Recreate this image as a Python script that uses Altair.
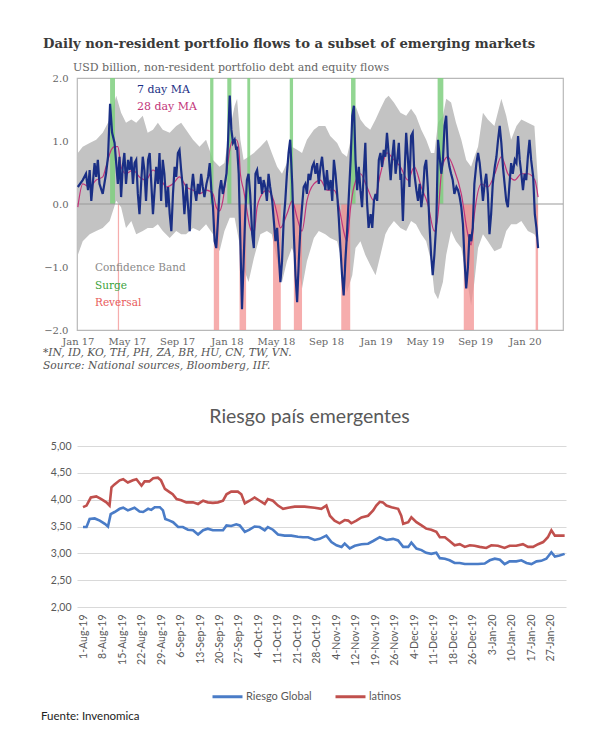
import json
import altair as alt
import pandas as pd

# ---------------- Top chart data (days since 2017-01-01, USD bn) ----------------
flow_7d = [
    (0, 0.27), (12, 0.38), (20, 0.48), (25, 0.22), (29, 0.54), (33, 0.05), (41, 0.65), (45, 0.43),
    (49, 0.70), (53, 0.32), (61, 0.16), (69, 0.48), (74, 0.75), (79, 1.59), (84, 1.13), (90, 0.97),
    (94, 0.65), (98, 0.32), (102, 0.75), (106, 0.11), (110, 0.59), (114, 0.81), (118, 0.32), (123, 0.70),
    (127, 0.54), (131, 0.75), (135, 0.32), (139, 0.65), (143, 0.70), (147, 0.16), (151, -0.16), (155, 0.32),
    (159, 0.75), (163, 0.54), (167, 0.05), (172, 0.70), (176, 0.81), (180, 0.32), (184, -0.16), (188, 0.22),
    (192, 0.59), (196, 0.32), (200, 0.81), (204, 0.05), (208, 0.70), (212, 0.48), (217, -0.05), (221, 0.27),
    (225, -0.16), (229, -0.43), (233, 0.16), (237, 0.59), (241, 0.43), (245, 0.81), (249, 0.86), (253, 0.54),
    (257, 0.27), (261, -0.16), (266, 0.32), (270, -0.05), (274, -0.43), (278, 0.22), (282, 0.48), (286, 0.22),
    (290, 0.05), (294, 0.32), (298, 0.16), (302, 0.48), (306, 0.27), (310, 0.11), (315, 0.32), (319, 0.43),
    (323, 0.65), (327, 0.22), (331, -0.05), (335, -0.59), (339, -0.70), (343, -0.27), (347, 0.22), (351, 0.38),
    (355, 0.16), (360, 0.32), (364, 0.48), (368, 1.02), (372, 1.72), (376, 1.18), (380, 0.97), (384, 1.02),
    (388, 0.86), (390, 0.91), (394, 0.48), (398, -0.59), (402, -1.67), (406, -0.91), (410, -0.16), (414, 0.38),
    (418, 0.48), (422, 0.16), (427, -0.48), (431, -0.70), (435, 0.48), (439, 0.54), (443, 0.32), (447, 0.43),
    (451, 0.16), (455, 0.38), (459, 0.27), (463, 0.05), (467, 0.48), (471, 0.27), (476, 0.05), (480, -0.27),
    (484, -0.59), (488, -0.38), (492, -0.81), (496, -1.24), (500, -0.91), (504, -0.27), (508, 0.05), (512, 0.48),
    (516, 0.81), (520, 1.02), (525, 0.32), (529, -0.48), (533, -1.13), (537, -1.56), (541, -0.91), (545, -0.38),
    (549, -0.05), (553, 0.27), (557, 0.32), (561, 0.16), (565, 0.48), (569, 0.38), (574, 0.59), (578, 0.65),
    (582, 0.48), (586, 0.65), (590, 0.32), (594, 0.59), (598, 0.75), (602, 0.48), (606, 0.22), (610, 0.54),
    (614, 0.22), (619, 0.38), (623, 0.05), (627, 0.70), (631, 0.48), (635, 0.16), (639, -0.22), (643, -0.70),
    (647, -1.13), (651, -1.45), (655, -0.91), (659, -0.48), (663, 0.05), (668, 0.70), (672, 1.40), (676, 1.56),
    (680, 0.70), (684, 0.22), (688, 0.59), (692, 0.22), (696, -0.05), (700, 0.48), (704, 0.97), (708, 0.05),
    (712, -0.38), (717, -0.16), (721, -0.38), (725, 0.05), (729, 0.16), (733, 0.05), (737, 0.70), (741, 0.81),
    (745, 0.59), (749, 0.86), (753, 0.75), (757, 1.13), (761, 0.81), (766, 0.38), (770, 0.75), (774, 1.02),
    (778, 0.48), (782, 0.70), (786, 0.97), (790, 0.38), (792, 0.48), (796, -0.27), (800, 0.48), (804, 1.13),
    (808, 0.75), (812, 0.27), (816, 1.08), (820, 1.13), (824, 0.48), (829, 0.22), (833, 0.05), (837, 0.32),
    (841, -0.05), (845, 0.16), (849, 0.59), (853, 0.70), (857, 0.27), (861, -0.32), (865, -0.81), (869, -1.13),
    (873, -0.81), (878, -0.27), (882, 1.02), (886, 0.75), (890, 0.48), (894, 0.70), (898, 1.24), (902, 1.40),
    (906, 0.75), (910, 0.59), (914, 0.48), (918, 0.38), (922, 0.16), (927, 0.27), (931, 0.22), (935, 0.11),
    (939, -0.05), (943, -0.32), (947, -0.91), (951, -1.34), (955, -1.02), (959, -0.48), (963, -0.59), (967, -0.38),
    (971, 0.32), (976, 0.65), (980, 0.81), (984, 0.65), (988, 0.38), (992, 0.05), (996, 0.32), (1000, 0.48),
    (1004, 0.16), (1008, -0.48), (1012, -0.16), (1016, 0.32), (1021, 0.59), (1025, 0.75), (1029, 1.02), (1033, 1.24),
    (1037, 0.97), (1041, 0.59), (1045, 0.32), (1049, 0.05), (1053, -0.05), (1057, 0.32), (1061, 0.65), (1065, 0.48),
    (1070, 0.70), (1074, 0.65), (1078, 1.08), (1082, 0.70), (1086, 0.48), (1090, 0.22), (1094, 0.48), (1098, 0.38),
    (1102, 0.75), (1106, 1.02), (1110, 0.70), (1115, 0.43), (1119, -0.16), (1123, -0.38), (1127, -0.70),
]

flow_28d = [
    (0, -0.05), (12, 0.32), (29, 0.27), (45, 0.38), (61, 0.43), (69, 0.59), (82, 0.86), (90, 0.91),
    (98, 0.91), (106, 0.59), (118, 0.48), (135, 0.54), (151, 0.43), (167, 0.38), (184, 0.54), (200, 0.43),
    (217, 0.27), (233, 0.32), (249, 0.43), (266, 0.27), (282, 0.22), (298, 0.16), (315, 0.22), (331, 0.16),
    (339, -0.05), (347, -0.11), (355, 0.05), (364, 0.48), (372, 0.86), (380, 1.02), (388, 1.02), (394, 0.90),
    (398, 0.48), (406, 0.22), (422, -0.38), (431, -0.48), (439, -0.05), (447, 0.11), (463, 0.22), (480, 0.05),
    (488, -0.16), (496, -0.38), (512, -0.16), (525, 0.05), (537, -0.22), (549, -0.43), (561, 0.05), (578, 0.32),
    (594, 0.38), (610, 0.22), (627, 0.22), (635, 0.11), (643, -0.16), (651, -0.43), (659, -0.59), (668, -0.05),
    (676, 0.27), (692, 0.48), (708, 0.27), (725, 0.05), (741, 0.48), (757, 0.81), (774, 0.70), (790, 0.59),
    (808, 0.38), (824, 0.59), (841, 0.27), (857, 0.00), (873, -0.43), (882, -0.16), (890, 0.48), (898, 0.70),
    (906, 0.75), (922, 0.54), (939, 0.16), (955, -0.48), (963, -0.65), (971, -0.16), (988, 0.32), (1004, 0.27),
    (1021, 0.48), (1037, 0.75), (1053, 0.48), (1070, 0.38), (1086, 0.48), (1102, 0.48), (1119, 0.38), (1127, 0.11),
]

# (day, upper, lower) of the confidence band
conf_band = [
    (0, 0.81, -0.81), (12, 0.91, -0.59), (29, 0.97, -0.48), (45, 1.02, -0.43), (61, 1.13, -0.38),
    (78, 1.34, -0.27), (94, 1.72, 0.05), (106, 1.45, -0.05), (118, 1.29, -0.38), (131, 1.34, -0.27),
    (143, 1.29, -0.48), (159, 1.40, -0.43), (171, 1.13, -0.38), (184, 1.18, -0.38), (196, 1.29, -0.32),
    (208, 1.18, -0.43), (225, 1.13, -0.54), (241, 1.24, -0.43), (253, 1.29, -0.48), (265, 1.18, -0.48),
    (282, 1.02, -0.38), (298, 0.91, -0.43), (314, 1.02, -0.32), (331, 0.70, -0.48), (347, 0.59, -0.75),
    (359, 0.65, -0.43), (372, 1.18, -0.22), (384, 1.56, -0.22), (390, 1.67, -0.43), (398, 1.02, -0.70),
    (406, 0.70, -1.02), (418, 0.75, -1.24), (431, 0.81, -0.86), (447, 0.91, -0.48), (463, 1.02, -0.43),
    (475, 0.81, -0.48), (488, 0.59, -0.91), (500, 0.48, -1.24), (512, 0.65, -0.91), (524, 0.91, -0.70),
    (537, 0.86, -0.91), (549, 0.81, -1.34), (561, 1.02, -0.91), (578, 1.18, -0.54), (590, 1.24, -0.43),
    (606, 1.24, -0.48), (618, 1.08, -0.54), (635, 0.97, -0.59), (647, 0.81, -0.91), (659, 0.75, -1.40),
    (672, 1.13, -1.13), (680, 1.56, -0.70), (692, 1.34, -0.59), (704, 1.24, -0.81), (716, 1.18, -0.97),
    (729, 1.34, -1.13), (741, 1.51, -0.81), (753, 1.67, -0.48), (761, 1.72, -0.38), (774, 1.61, -0.27),
    (790, 1.45, -0.38), (804, 1.40, -0.43), (816, 1.51, -0.27), (828, 1.40, -0.32), (841, 1.18, -0.48),
    (853, 1.02, -0.59), (865, 0.81, -0.91), (873, 0.81, -1.40), (882, 1.29, -1.51), (894, 1.40, -1.24),
    (902, 1.67, -0.81), (914, 1.61, -0.43), (926, 1.29, -0.59), (939, 1.02, -0.70), (951, 0.70, -1.13),
    (963, 0.59, -1.61), (971, 0.75, -1.24), (980, 0.91, -0.70), (992, 1.45, -0.48), (1004, 1.34, -0.59),
    (1020, 1.24, -0.75), (1037, 1.67, -0.70), (1049, 1.40, -0.43), (1061, 1.02, -0.32), (1074, 1.24, -0.32),
    (1086, 1.34, -0.27), (1102, 1.29, -0.43), (1118, 1.24, -0.48), (1127, 0.32, -0.59),
]

surge_periods = [(79, 91), (324, 332), (366, 376), (415, 422), (519, 527), (669, 680), (881, 895)]
reversal_periods = [(98, 101), (333, 346), (396, 412), (478, 497), (529, 549), (645, 667), (945, 970), (1121, 1127)]

top_title = "Daily non-resident portfolio flows to a subset of emerging markets"
top_subtitle = "USD billion,  non-resident portfolio  debt and equity flows"
top_notes = ["*IN, ID, KO, TH, PH, ZA, BR, HU, CN, TW, VN.", "Source: National sources, Bloomberg, IIF."]
top_y_ticks = [-2.0, -1.5, -1.0, -0.5, 0.0, 0.5, 1.0, 1.5, 2.0]

# ---------------- Bottom chart data (position on category axis, %) ----------------
riesgo_global = [
    (0, 3.49), (0.9, 3.49), (1.7, 3.64), (3, 3.65), (4.3, 3.61), (5.6, 3.55), (6.4, 3.50), (7.1, 3.73),
    (8.1, 3.77), (9.4, 3.83), (10.3, 3.85), (11.5, 3.80), (13.2, 3.85), (14.5, 3.78), (15.4, 3.77), (16.7, 3.83),
    (17.5, 3.81), (18.4, 3.86), (19.7, 3.86), (20.5, 3.80), (21.1, 3.64), (22.2, 3.61), (23.1, 3.58), (24.4, 3.49),
    (25.6, 3.49), (26.9, 3.44), (28.2, 3.43), (29.5, 3.35), (30.8, 3.43), (32, 3.46), (33.3, 3.43), (34.6, 3.43),
    (35.9, 3.43), (36.8, 3.52), (38, 3.51), (39.3, 3.54), (40.2, 3.52), (41.5, 3.40), (42.7, 3.44), (44, 3.50),
    (45.3, 3.49), (46.6, 3.43), (47.4, 3.49), (48.7, 3.44), (50, 3.35), (51.7, 3.33), (53.4, 3.33), (55.1, 3.31),
    (56.4, 3.30), (57.7, 3.30), (59.4, 3.25), (60.7, 3.27), (62.4, 3.33), (63.7, 3.21), (65, 3.15), (66.3, 3.12),
    (67.1, 3.18), (68.4, 3.09), (69.7, 3.14), (71.4, 3.17), (73.1, 3.18), (74.4, 3.23), (76.1, 3.30), (77.8, 3.25),
    (79.5, 3.27), (80.8, 3.24), (82.1, 3.12), (83.4, 3.12), (84.2, 3.20), (85.5, 3.09), (86.8, 3.06), (88, 3.01),
    (89.3, 2.99), (90.6, 3.01), (91.5, 2.91), (92.8, 2.90), (94, 2.87), (95.3, 2.82), (96.6, 2.82), (97.9, 2.80),
    (99.6, 2.80), (101.3, 2.80), (103, 2.81), (104.3, 2.87), (105.6, 2.90), (106.9, 2.88), (108.1, 2.80), (109.4, 2.85),
    (111.1, 2.85), (112.4, 2.87), (113.7, 2.82), (115, 2.80), (116.3, 2.85), (117.5, 2.86), (118.8, 2.90), (120.1, 3.02),
    (121, 2.94), (122.2, 2.96), (123.5, 2.99),
]

latinos = [
    (0, 3.86), (0.9, 3.89), (2, 4.04), (3.4, 4.06), (4.7, 4.01), (6, 3.95), (6.8, 3.89), (7.3, 4.23),
    (8, 4.28), (9.4, 4.36), (10.3, 4.38), (11.5, 4.32), (12.8, 4.36), (13.7, 4.38), (15, 4.26), (15.8, 4.34),
    (17, 4.34), (18, 4.40), (19.2, 4.41), (20, 4.36), (21, 4.20), (22.2, 4.14), (23, 4.10), (24, 4.01),
    (25.2, 3.99), (26.5, 3.95), (28.2, 3.95), (29.5, 3.92), (30.8, 3.98), (32, 3.95), (33.3, 3.94), (34.6, 3.95),
    (35.9, 3.98), (36.8, 4.10), (38, 4.15), (39.7, 4.15), (40.6, 4.10), (41.5, 3.93), (42.7, 3.98), (44, 4.04),
    (45.3, 3.98), (46.6, 3.92), (47.4, 4.01), (48.7, 3.98), (50, 3.89), (51.3, 3.83), (52.6, 3.85), (54.3, 3.87),
    (56.8, 3.87), (59.4, 3.85), (61.1, 3.83), (62.4, 3.89), (63.3, 3.70), (64.5, 3.61), (65.8, 3.56), (67.1, 3.62),
    (68, 3.61), (68.8, 3.56), (70.1, 3.61), (71.4, 3.67), (73.1, 3.70), (74.4, 3.80), (75.2, 3.89), (76.1, 3.96),
    (76.9, 3.95), (77.8, 3.89), (79.1, 3.86), (80.8, 3.83), (81.6, 3.70), (82.1, 3.55), (83.4, 3.58), (84.2, 3.67),
    (85.5, 3.58), (86.8, 3.52), (88, 3.46), (89.3, 3.44), (90.6, 3.40), (91.5, 3.30), (92.8, 3.30), (94, 3.23),
    (95.3, 3.15), (96.6, 3.17), (97.9, 3.12), (99.2, 3.15), (100.4, 3.14), (101.7, 3.12), (103.4, 3.10), (104.7, 3.15),
    (106.4, 3.14), (108.1, 3.10), (109.4, 3.14), (111.1, 3.14), (112.8, 3.17), (114.1, 3.12), (115.4, 3.12), (116.7, 3.17),
    (118, 3.21), (119.2, 3.30), (120.1, 3.43), (121, 3.33), (122.2, 3.33), (123.5, 3.33),
]

date_labels = [
    "1-Aug-19", "8-Aug-19", "15-Aug-19", "22-Aug-19", "29-Aug-19", "6-Sep-19", "13-Sep-19", "20-Sep-19",
    "27-Sep-19", "4-Oct-19", "11-Oct-19", "21-Oct-19", "28-Oct-19", "4-Nov-19", "12-Nov-19", "19-Nov-19",
    "26-Nov-19", "4-Dec-19", "11-Dec-19", "18-Dec-19", "26-Dec-19", "3-Jan-20", "10-Jan-20", "17-Jan-20",
    "27-Jan-20",
]
series_names = ["Riesgo Global", "latinos"]
bottom_title = "Riesgo país emergentes"
bottom_y_ticks = [2.0, 2.5, 3.0, 3.5, 4.0, 4.5, 5.0]
source_note = "Fuente: Invenomica"

# ---------------- build tables ----------------
ORIGIN = pd.Timestamp("2017-01-01")


def to_date(d):
    return (ORIGIN + pd.to_timedelta(d, unit="D")).strftime("%Y-%m-%dT%H:%M:%S")


df7 = pd.DataFrame(flow_7d, columns=["day", "value"])
df7["date"] = df7["day"].map(to_date)
df28 = pd.DataFrame(flow_28d, columns=["day", "value"])
df28["date"] = df28["day"].map(to_date)
dfband = pd.DataFrame(conf_band, columns=["day", "hi", "lo"])
dfband["date"] = dfband["day"].map(to_date)
dfsurge = pd.DataFrame(surge_periods, columns=["s", "e"])
dfsurge["start"] = dfsurge["s"].map(to_date)
dfsurge["end"] = dfsurge["e"].map(to_date)
dfrev = pd.DataFrame(reversal_periods, columns=["s", "e"])
dfrev["start"] = dfrev["s"].map(to_date)
dfrev["end"] = dfrev["e"].map(to_date)

SERIF = "DejaVu Serif"
SANS = "Lato"

x_scale = alt.Scale(domain=[alt.DateTime(year=2016, month=12, date=30),
                            alt.DateTime(year=2020, month=4, date=3)])
tick_dates = [alt.DateTime(year=y, month=m, date=1)
              for y in (2017, 2018, 2019) for m in (1, 5, 9)] + [alt.DateTime(year=2020, month=1, date=1)]
y_scale = alt.Scale(domain=[-2, 2], nice=False)

x_top = alt.X("date:T", scale=x_scale, title=None,
              axis=alt.Axis(values=tick_dates, format="%b %y", grid=False, ticks=False, domain=False,
                            labelFlush=False, labelFont=SERIF, labelFontSize=10, labelColor="#666666",
                            labelPadding=6))
y_top = alt.Y("value:Q", scale=y_scale, title=None,
              axis=alt.Axis(values=top_y_ticks, format=".1f", grid=False, ticks=False, domain=False,
                            labelFont=SERIF, labelFontSize=10, labelColor="#666666", labelPadding=9))

band = alt.Chart(dfband).mark_area(color="#c3c3c3", opacity=1).encode(
    x=x_top, y=alt.Y("hi:Q", scale=y_scale), y2="lo:Q")
surge = alt.Chart(dfsurge).mark_rect(color="#7fcf7f", opacity=0.85).encode(
    x=alt.X("start:T", scale=x_scale), x2="end:T", y=alt.datum(2.0), y2=alt.datum(0.0))
rev = alt.Chart(dfrev).mark_rect(color="#f28e8e", opacity=0.72).encode(
    x=alt.X("start:T", scale=x_scale), x2="end:T", y=alt.datum(0.0), y2=alt.datum(-2.0))
zero = alt.Chart(pd.DataFrame({"v": [0.0]})).mark_rule(color="#9a9a9a", strokeWidth=1.2).encode(
    y=alt.Y("v:Q", scale=y_scale))
line28 = alt.Chart(df28).mark_line(color="#c2357a", strokeWidth=1.2, interpolate="monotone").encode(
    x=x_top, y=y_top)
line7 = alt.Chart(df7).mark_line(color="#1a2f85", strokeWidth=2.2).encode(x=x_top, y=y_top)

dummy = pd.DataFrame({"a": [0]})


def label(text, x, y, color, size=11, style="normal", weight="normal"):
    return alt.Chart(dummy).mark_text(text=text, align="left", baseline="middle", font=SERIF,
                                      fontSize=size, color=color, fontStyle=style,
                                      fontWeight=weight).encode(x=alt.value(x), y=alt.value(y))


top_texts = [
    label("7 day MA", 60, 12, "#1a2f85", 11),
    label("28 day MA", 60, 29, "#c2357a", 11),
    label("Confidence Band", 18, 190, "#8a8a8a", 10.5),
    label("Surge", 18, 208, "#3aa13a", 10.5),
    label("Reversal", 18, 225, "#e85a5a", 10.5),
    label(top_subtitle, -4, -10, "#666666", 11),
    label(top_notes[0], -34, 275, "#555555", 10.7, style="italic"),
    label(top_notes[1], -34, 288, "#555555", 10.7, style="italic"),
]

top = alt.layer(band, surge, rev, zero, line28, line7, *top_texts).properties(
    width=486, height=252,
    view=alt.ViewBackground(stroke="#b8b8b8", strokeWidth=1.2),
    title=alt.TitleParams(text=top_title, anchor="start", frame="bounds", font=SERIF, fontSize=13.2,
                          fontWeight="bold", color="#3a3a3a", offset=11),
)

# ---------------- bottom chart ----------------
rows = [(p, v, series_names[0]) for p, v in riesgo_global] + [(p, v, series_names[1]) for p, v in latinos]
dfb = pd.DataFrame(rows, columns=["pos", "value", "series"])

label_expr = json.dumps(date_labels) + "[round(datum.value / 5)]"
x_bot = alt.X("pos:Q", scale=alt.Scale(domain=[-1.54, 123.85], nice=False, zero=False), title=None,
              axis=alt.Axis(values=list(range(0, 121, 5)), labelExpr=label_expr, labelAngle=270,
                            grid=False, ticks=False, domain=False, labelFlush=False, labelOverlap=False,
                            labelFont=SANS, labelFontSize=10.5, labelColor="#595959", labelPadding=7))
y_bot = alt.Y("value:Q", scale=alt.Scale(domain=[2, 5], nice=False, zero=False), title=None,
              axis=alt.Axis(values=bottom_y_ticks, labelExpr="replace(format(datum.value, '.2f'), '.', ',')",
                            grid=True, gridColor="#d9d9d9", gridWidth=1.2, ticks=False, domain=False,
                            labelFont=SANS, labelFontSize=10.5, labelColor="#595959", labelPadding=6))

lines_b = alt.Chart(dfb).mark_line(strokeWidth=2.6).encode(
    x=x_bot, y=y_bot,
    color=alt.Color("series:N", sort=series_names,
                    scale=alt.Scale(domain=series_names, range=["#4a7cc7", "#c0504d"]),
                    legend=alt.Legend(orient="none", legendX=134, legendY=234, direction="horizontal",
                                      columns=2, title=None, symbolType="stroke", symbolSize=900,
                                      symbolStrokeWidth=3, labelFont=SANS, labelFontSize=11,
                                      labelColor="#595959", columnPadding=17, labelOffset=2)),
)
fuente = alt.Chart(dummy).mark_text(text=source_note, align="left", baseline="middle", font=SANS,
                                    fontSize=11.5, color="#222222").encode(x=alt.value(-36), y=alt.value(271))

bottom = alt.layer(lines_b, fuente).properties(
    width=489, height=161,
    view=alt.ViewBackground(strokeWidth=0),
    title=alt.TitleParams(text=bottom_title, anchor="middle", font=SANS, fontSize=19.5, fontWeight="normal",
                          color="#595959", offset=14, dx=-12),
)

chart = alt.vconcat(top, bottom, spacing=34).resolve_scale(color="independent").resolve_legend(
    color="independent"
).properties(
    padding={"left": 33, "top": 28, "right": 5, "bottom": 5},
    background="white",
).configure_view(strokeWidth=0)

chart.save("out.html", embed_options={"renderer": "svg", "actions": False})
